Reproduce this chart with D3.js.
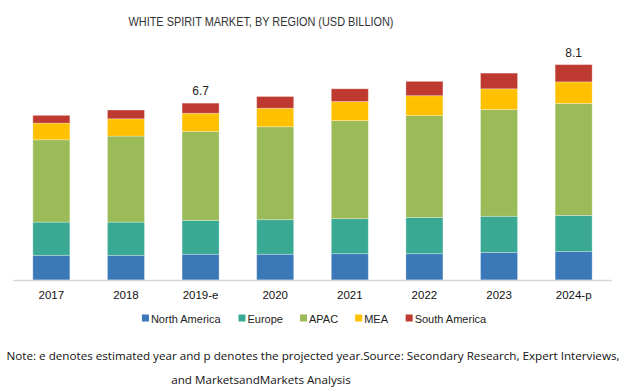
<!DOCTYPE html>
<html>
<head>
<meta charset="utf-8">
<script src="https://cdn.jsdelivr.net/npm/d3@7"></script>
<style>
  body { margin: 0; background: #fff; }
  svg { display: block; }
</style>
</head>
<body>
<svg id="chart" width="626" height="391"></svg>
<script>
// values (USD billion)
const years = ["2017", "2018", "2019-e", "2020", "2021", "2022", "2023", "2024-p"];
const regions = ["North America", "Europe", "APAC", "MEA", "South America"];
const northAmerica = [0.93, 0.93, 0.97, 0.97, 0.99, 0.99, 1.04, 1.07];
const europe       = [1.25, 1.25, 1.27, 1.30, 1.32, 1.36, 1.36, 1.36];
const apac         = [3.10, 3.24, 3.35, 3.50, 3.69, 3.84, 4.02, 4.22];
const mea          = [0.63, 0.65, 0.69, 0.70, 0.72, 0.75, 0.78, 0.81];
const southAmerica = [0.29, 0.33, 0.38, 0.44, 0.48, 0.54, 0.59, 0.65];
const totalLabels  = ["", "", "6.7", "", "", "", "", "8.1"];
const colors = ["#3a78b8", "#3aa994", "#9bbb59", "#ffc000", "#be3a30"];

const seriesValues = [northAmerica, europe, apac, mea, southAmerica];
const table = years.map((yr, i) => {
  const row = { year: yr };
  regions.forEach((r, k) => { row[r] = seriesValues[k][i]; });
  return row;
});

const svg = d3.select("#chart");

const x = d3.scaleBand().domain(years).range([14.2, 610.8])
  .paddingInner(0.504).paddingOuter(0.25);
const y = d3.scaleLinear().domain([0, 9]).range([280, 41]);
const color = d3.scaleOrdinal().domain(regions).range(colors);

// title
svg.append("text")
  .attr("x", 261).attr("y", 26)
  .attr("text-anchor", "middle")
  .attr("font-family", "Liberation Sans Narrow, Liberation Sans, Arial, sans-serif")
  .attr("font-size", 13)
  .attr("fill", "#333")
  .attr("textLength", 265)
  .attr("lengthAdjust", "spacingAndGlyphs")
  .text("WHITE SPIRIT MARKET, BY REGION (USD BILLION)");

// stacked bars
const stacked = d3.stack().keys(regions)(table);
svg.append("g")
  .selectAll("g")
  .data(stacked)
  .join("g")
  .attr("fill", d => color(d.key))
  .selectAll("rect")
  .data(d => d)
  .join("rect")
  .attr("x", d => x(d.data.year))
  .attr("width", x.bandwidth())
  .attr("y", d => y(d[1]))
  .attr("height", d => y(d[0]) - y(d[1]))
  .attr("stroke", "#ffffff")
  .attr("stroke-opacity", 0.35)
  .attr("stroke-width", 0.8);

// total labels
const totals = years.map((yr, i) => d3.sum(seriesValues, s => s[i]));
svg.append("g")
  .selectAll("text")
  .data(years)
  .join("text")
  .attr("x", d => x(d) + x.bandwidth() / 2)
  .attr("y", (d, i) => y(totals[i]) - 8)
  .attr("text-anchor", "middle")
  .attr("font-family", "Liberation Sans, Arial, sans-serif")
  .attr("font-size", 12)
  .attr("fill", "#222")
  .text((d, i) => totalLabels[i]);

// x axis
const xAxis = svg.append("g")
  .attr("transform", `translate(0,${y(0) + 0.5})`)
  .call(d3.axisBottom(x).tickSize(0).tickPadding(10));
xAxis.select(".domain")
  .attr("d", "M13,0H612")
  .attr("stroke", "#d9d9d9")
  .attr("stroke-width", 1.5);
xAxis.selectAll("text")
  .attr("font-family", "Liberation Sans, Arial, sans-serif")
  .attr("font-size", 11.5)
  .attr("fill", "#111");

// legend
const legend = svg.append("g").attr("transform", "translate(0,319)");
const items = legend.selectAll("g").data(regions).join("g");
items.append("rect")
  .attr("width", 7).attr("height", 7)
  .attr("y", -4.5)
  .attr("fill", d => color(d));
items.append("text")
  .attr("x", 9)
  .attr("dy", "0.35em")
  .attr("font-family", "Liberation Sans, Arial, sans-serif")
  .attr("font-size", 11)
  .attr("fill", "#222")
  .text(d => d);
const widths = [];
items.each(function () {
  widths.push(this.getBBox().width);
});
const gap = 17;
const legendWidth = d3.sum(widths) + gap * (widths.length - 1);
let lx = 314.5 - legendWidth / 2;
items.attr("transform", (d, i) => {
  const t = `translate(${lx},0)`;
  lx += widths[i] + gap;
  return t;
});

// footnote
const note1 = svg.append("text")
  .attr("x", 313).attr("y", 359.5)
  .attr("text-anchor", "middle")
  .attr("font-family", "Open Sans, Noto Sans, sans-serif")
  .attr("font-size", 11.5)
  .attr("fill", "#111")
  .text("Note: e denotes estimated year and p denotes the projected year.Source: Secondary Research, Expert Interviews,");
const w1 = note1.node().getComputedTextLength();
const fs = 11.5 * 614 / w1;
note1.attr("font-size", fs);

svg.append("text")
  .attr("x", 261).attr("y", 384)
  .attr("text-anchor", "middle")
  .attr("font-family", "Open Sans, Noto Sans, sans-serif")
  .attr("font-size", fs)
  .attr("fill", "#111")
  .text("and MarketsandMarkets Analysis");
</script>
</body>
</html>
